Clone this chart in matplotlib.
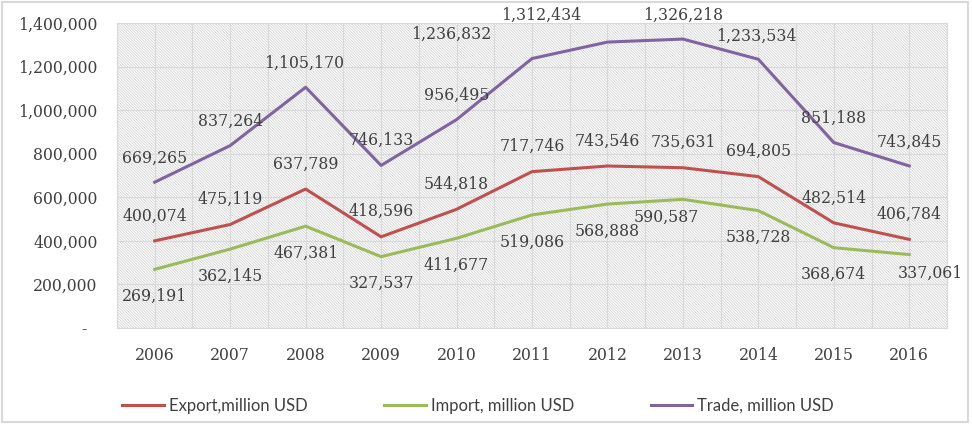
import matplotlib
matplotlib.use("Agg")
import matplotlib.pyplot as plt
from matplotlib.patches import Rectangle
from matplotlib.ticker import FuncFormatter, MultipleLocator

years = ["2006", "2007", "2008", "2009", "2010", "2011", "2012", "2013", "2014", "2015", "2016"]
export = [400074, 475119, 637789, 418596, 544818, 717746, 743546, 735631, 694805, 482514, 406784]
imports = [269191, 362145, 467381, 327537, 411677, 519086, 568888, 590587, 538728, 368674, 337061]
trade = [669265, 837264, 1105170, 746133, 956495, 1236832, 1312434, 1326218, 1233534, 851188, 743845]

# label offsets in pixels (dx, dy), like excel put them
off_trade = [(0, 24), (0, 24), (-2, 24), (0, 25), (0, 24), (-81, 24), (-66, 27), (0, 24), (-2, 23), (0, 24), (0, 24)]
off_export = [(0, 25)] * 11
off_import = [(0, -27)] * 7 + [(-17, -18), (0, -27), (0, -27), (21, -19)]

txt = "#404040"
serif = "DejaVu Serif"
plt.rcParams["hatch.linewidth"] = 0.6
plt.rcParams["hatch.color"] = "#d3d3d3"

fig = plt.figure(figsize=(9.72, 4.24), dpi=100)
ax = fig.add_axes([117 / 972, 96 / 424, 830 / 972, 305 / 424])

# hatched plot area
ax.add_patch(Rectangle((0, 0), 1, 1, transform=ax.transAxes, facecolor="white",
                       edgecolor="#d3d3d3", hatch="\\" * 12, linewidth=0, zorder=0))

x = list(range(len(years)))
ax.plot(x, export, color="#C0504D", lw=2.2, label="Export,million USD", zorder=3)
ax.plot(x, imports, color="#9BBB59", lw=2.2, label="Import, million USD", zorder=3)
ax.plot(x, trade, color="#8064A2", lw=2.2, label="Trade, million USD", zorder=3)

for vals, offs in [(trade, off_trade), (export, off_export), (imports, off_import)]:
    for i, v in enumerate(vals):
        ax.annotate(f"{v:,}", (i, v), xytext=offs[i], textcoords="offset pixels",
                    ha="center", va="center", fontsize=11.3, family=serif, color=txt, zorder=4)

ax.set_xlim(-0.5, 10.5)
ax.set_ylim(0, 1400000)
ax.set_xticks(x)
ax.set_xticklabels(years)
ax.xaxis.set_minor_locator(MultipleLocator(0.5))
ax.yaxis.set_major_locator(MultipleLocator(200000))
ax.yaxis.set_major_formatter(FuncFormatter(lambda v, p: "-  " if v == 0 else f"{int(v):,}"))
ax.grid(True, which="both", color="#d9d9d9", lw=0.8, zorder=1)
ax.set_axisbelow(True)
for s in ax.spines.values():
    s.set_color("#d9d9d9")
ax.tick_params(which="both", length=0)
ax.tick_params(axis="y", pad=14)
ax.tick_params(axis="x", pad=14)
for lab in ax.get_xticklabels() + ax.get_yticklabels():
    lab.set_family(serif)
    lab.set_fontsize(11.3)
    lab.set_color(txt)

fig.legend(loc="center", bbox_to_anchor=(478 / 972, 1 - 406 / 424), ncol=3, frameon=False,
           prop={"family": "Lato", "size": 12}, labelcolor=txt, handlelength=2.5,
           handletextpad=0.3, columnspacing=4.6)

# chart border
fig.add_artist(Rectangle((2 / 972, 2 / 424), 966 / 972, 420 / 424, transform=fig.transFigure,
                         fill=False, edgecolor="#d9d9d9", lw=1.5))

fig.savefig("out.png", dpi=100)
